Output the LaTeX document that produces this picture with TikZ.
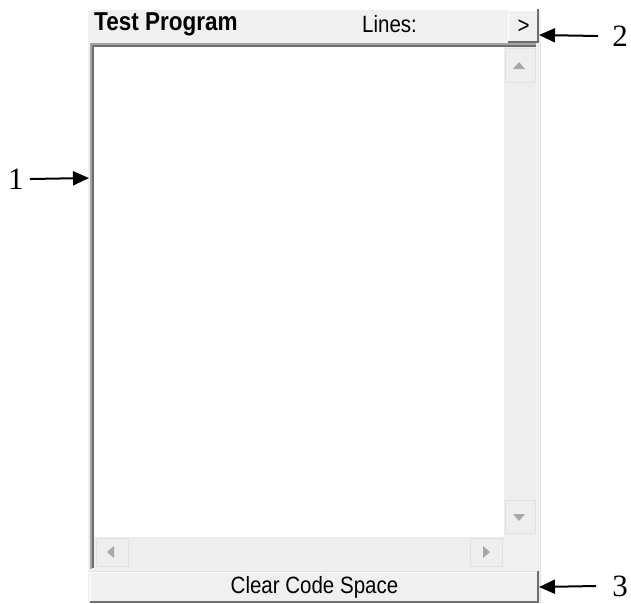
\documentclass[tikz,border=0pt]{standalone}
\usepackage{fontspec}
\setmainfont{Liberation Serif}
\newfontfamily\uifont{Liberation Sans}
\usetikzlibrary{arrows.meta}
\definecolor{panel}{HTML}{F0F0F0}
\definecolor{track}{HTML}{EEEEEE}
\definecolor{lightedge}{HTML}{E0E0E0}
\definecolor{midedge}{HTML}{A4A4A4}
\definecolor{darkedge}{HTML}{6E6E6E}
\definecolor{glyph}{HTML}{A8A8A8}
\newcommand{\tallui}[1]{\scalebox{1}[1.15]{#1}}
\begin{document}
\begin{tikzpicture}[x=1pt,y=-1pt,
  uitext/.style={font=\uifont\fontsize{20.5}{24}\selectfont, inner sep=0pt},
  uibold/.style={font=\uifont\bfseries\fontsize{22.5}{26}\selectfont, inner sep=0pt},
  num/.style={font=\fontsize{31}{34}\selectfont, inner sep=0pt},
  callout/.style={line width=2pt, -{Triangle[length=16pt,width=14pt]}},
  tri/.style={fill=glyph, draw=none},
  sunk/.style={line width=2pt}
]
\useasboundingbox (0,0) rectangle (631,603);

% panel background
\fill[panel] (88,10) rectangle (541,603);

% header bar with title and line count
\node[uibold, anchor=west] (title) at (94,24) {\tallui{Test Program}};
\node[uitext, anchor=west] (lines) at (362,24) {\tallui{Lines:}};

% ">" expand button
\node[draw=none, fill=panel, minimum width=31pt, minimum height=33pt, inner sep=0pt,
      uitext] (next) at (523.5,26.5) {\tallui{>}};
\draw[white, line width=1pt] (508.5,41) -- (508.5,10.5) -- (536,10.5);
\draw[darkedge, line width=2pt] (508,42) -- (538,42) -- (538,9);

% code area: white field with sunken border
\fill[white] (94,47) rectangle (503,536);
\node[minimum width=409pt, minimum height=489pt, inner sep=0pt] (code) at (298.5,291.5) {};
\draw[midedge, sunk] (91,569) -- (91,44) -- (536,44);
\draw[darkedge, sunk] (93,568) -- (93,46) -- (536,46);

% vertical scrollbar
\fill[track] (503,47) rectangle (536,536);
\draw[white, line width=1pt] (503.5,47) -- (503.5,536);
\draw[lightedge, line width=1pt] (505,48) rectangle (535,82);
\draw[lightedge, line width=1pt] (505,500) rectangle (535,533);
\fill[tri] (513,69) -- (525,69) -- (519,62) -- cycle;
\fill[tri] (513,514) -- (525,514) -- (519,521) -- cycle;

% horizontal scrollbar
\fill[track] (94,536) rectangle (503,568);
\draw[white, line width=1pt] (94,536.5) -- (503,536.5);
\draw[lightedge, line width=1pt] (96,538) rectangle (128,566);
\draw[lightedge, line width=1pt] (470,538) rectangle (502,566);
\fill[tri] (114,546) -- (114,558) -- (107,552) -- cycle;
\fill[tri] (483,546) -- (483,558) -- (490,552) -- cycle;

% corner square
\fill[panel] (503,536) rectangle (536,568);

% right outer edge
\draw[lightedge, line width=1pt] (540.5,43) -- (540.5,603);

% clear button
\node[draw=none, fill=panel, minimum width=449pt, minimum height=31pt, inner sep=0pt]
  (clear) at (314.5,587.5) {};
\node[uitext] (cleartext) at (314.5,587) {\tallui{Clear Code Space}};
\draw[white, line width=1pt] (90.5,602) -- (90.5,572.5) -- (537,572.5);
\draw[lightedge, line width=1pt] (90,571.5) -- (538,571.5);
\draw[darkedge, line width=2pt] (90,602) -- (538,602) -- (538,571);

% callouts
\coordinate (c1) at (89,178);
\coordinate (c2) at (539,35);
\coordinate (c3) at (539,587);
\node[num] (n1) at (16,179) {1};
\node[num] (n2) at (620,36) {2};
\node[num] (n3) at (620,586) {3};
\draw[callout] ([xshift=6pt]n1.east) -- (c1);
\draw[callout] ([xshift=-14pt]n2.west) -- (c2);
\draw[callout] (n3.west -| 596,587) -- (c3);
\end{tikzpicture}
\end{document}
